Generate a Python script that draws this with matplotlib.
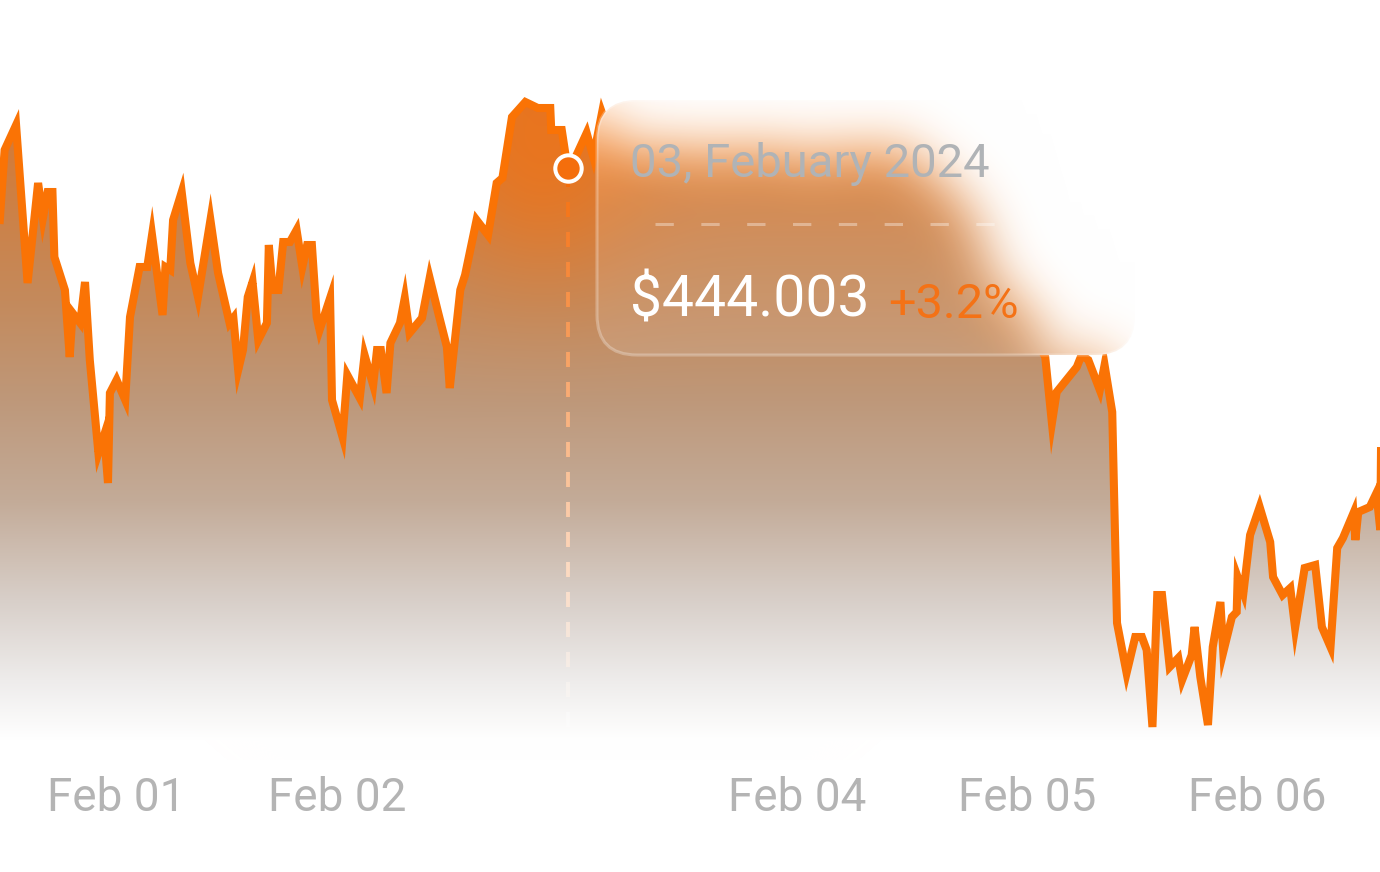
import numpy as np
import matplotlib
matplotlib.use('Agg')
import matplotlib.pyplot as plt
import matplotlib.transforms as mtransforms
from matplotlib.collections import LineCollection
from matplotlib.patches import FancyBboxPatch

# hours since Feb 01 00:00, price in $
HOURS = [-11.3, -10.8, -9.6, -8.4, -7.3, -6.8, -6.3, -5.8, -5.6, -4.5, -4.0, -3.7, -2.9, -2.4, -1.9,
         -1.0, -0.4, 0.0, 0.2, 0.9, 1.8, 2.3, 3.3, 4.1, 4.6, 5.7, 6.0, 6.5, 6.8, 7.7, 8.6, 9.4,
         10.7, 11.5, 12.7, 13.1, 13.6, 14.1, 14.6, 15.1, 15.7, 16.6, 16.8, 17.2, 17.8, 18.3, 19.0,
         19.7, 20.3, 20.8, 21.3, 21.8, 22.1, 23.2, 23.4, 24.5, 25.0, 26.3, 26.8, 27.7, 28.1, 28.5,
         29.1, 29.5, 30.5, 31.0, 31.5, 32.8, 33.6, 34.5, 35.4, 35.7, 36.8, 37.3, 38.5, 39.7, 40.6,
         41.2, 42.2, 43.6, 44.9, 46.2, 46.3, 47.4, 48.0, 48.8, 50.0, 50.7, 51.6,
         52.4, 53.2, 53.9, 54.7, 55.6, 56.4, 57.1, 57.9, 58.7, 59.4, 60.3, 61.0, 61.8, 62.6, 63.4,
         64.1, 65.0, 65.7, 66.5, 67.3, 68.1, 68.8, 69.7, 70.4, 71.2, 72.0, 72.8, 73.5, 74.4, 75.1,
         75.9, 76.7, 77.5, 78.2, 79.1, 79.8, 80.6, 81.4, 82.2, 82.9, 83.8, 84.5, 85.3, 86.1, 86.9,
         87.6, 88.5, 89.2, 90.0, 90.8, 91.6, 92.3, 93.2, 93.9, 94.7, 95.5, 96.3, 97.0, 97.5,
         97.9, 98.6, 99.1, 101.2, 101.7, 102.4, 103.6, 104.1, 104.9, 105.4, 106.4, 107.3, 108.0,
         108.5, 109.1, 109.6, 110.1, 110.9, 111.8, 112.2, 113.2, 113.5, 114.1, 114.9, 115.4, 116.2,
         116.5, 117.4, 117.9, 118.0, 118.6, 119.3, 120.3, 121.4, 121.7, 122.7, 123.5, 124.0, 125.0,
         126.1, 126.8, 127.7, 128.4, 129.0, 130.1, 130.3, 130.6, 131.8, 132.5, 132.9, 133.3, 135.0]
PRICES = [438.8, 445.8, 448.3, 432.5, 442.5, 439.0, 441.6, 441.6, 435.1, 431.8, 425.1, 429.5, 428.5,
          432.6, 424.8, 415.5, 417.3, 412.5, 421.5, 422.8, 420.8, 429.1, 434.1, 434.1, 437.3, 429.3,
          434.1, 433.8, 438.8, 441.6, 434.5, 431.1, 438.8, 433.5, 428.5, 429.0, 423.8, 425.8, 431.1,
          432.6, 426.8, 428.5, 436.3, 431.8, 431.8, 436.6, 436.6, 437.8, 434.1, 436.3, 436.3, 429.1,
          427.8, 431.0, 420.8, 417.1, 423.3, 421.0, 425.3, 422.3, 425.8, 425.8, 421.5, 426.5, 428.5,
          431.0, 427.5, 429.0, 433.0, 429.5, 426.1, 422.0, 431.8, 433.3, 438.8, 437.3, 442.5, 443.0,
          449.1, 450.6, 450.0, 450.0, 447.8, 447.8, 444.003, 445.0, 447.5, 445.1, 449.5,
          447.3, 443.5, 445.3, 443.8, 445.5, 444.1, 445.3, 446.3, 444.5, 445.7, 443.3, 444.7, 446.1,
          444.3, 443.1, 445.3, 443.9, 446.1, 444.5, 445.5, 443.3, 445.1, 444.1, 446.3, 444.9, 443.3,
          444.7, 442.8, 444.3, 446.1, 444.7, 443.3, 445.1, 443.8, 445.8, 444.3, 445.5, 443.5, 444.8,
          446.1, 444.3, 442.8, 443.5, 442.0, 442.6, 440.8, 441.0, 438.8, 439.0, 436.3, 433.8, 430.8,
          431.8, 428.8, 430.3, 427.8, 429.0, 426.8, 425.8,
          425.1, 418.5, 421.6, 424.1, 425.3, 424.8, 421.8, 424.3, 419.6, 398.5, 393.5, 397.1, 397.1,
          395.8, 388.1, 401.3, 401.3, 394.1, 395.0, 392.8, 395.3, 398.1, 393.1, 388.3, 396.1, 400.6,
          395.6, 399.1, 399.6, 403.1, 401.5, 407.3, 410.1, 406.6, 403.1, 401.3, 402.0, 398.0, 404.0,
          404.3, 398.1, 396.1, 406.0, 407.0, 409.5, 406.8, 409.6, 410.1, 411.5, 407.8, 450.2, 430.8]

TICK_HOURS = [0, 24, 72, 96, 120]
TICK_LABELS = ['Feb 01', 'Feb 02', 'Feb 04', 'Feb 05', 'Feb 06']
TICK_NUDGE_PX = [8, 0, 0, 0, 0]

HOVER_HOUR = 48.0
HOVER_PRICE = 444.003
HOVER_DATE = '03, Febuary 2024'
HOVER_VALUE = '$444.003'
HOVER_CHANGE = '+3.2%'

ORANGE = '#FA7305'
W, H = 1380, 872
XMIN, XMAX = -11.28, 132.87
YMIN, YMAX = 373.6, 460.8
FILL_FLOOR = 384.8
FONT = ['Roboto', 'DejaVu Sans']


def gaussian_blur(img, sigma):
    r = int(3 * sigma)
    k = np.exp(-0.5 * (np.arange(-r, r + 1) / sigma) ** 2)
    k /= k.sum()
    h, w = img.shape[:2]
    p = np.pad(img, ((r, r), (r, r), (0, 0)), mode='edge')
    tmp = np.zeros((h + 2 * r, w, 3))
    for i, kv in enumerate(k):
        tmp += kv * p[:, i:i + w]
    out = np.zeros((h, w, 3))
    for i, kv in enumerate(k):
        out += kv * tmp[i:i + h]
    return out


def main():
    fig = plt.figure(figsize=(W / 100, H / 100), dpi=100)
    ax = fig.add_axes([0, 0, 1, 1])
    ax.set_xlim(XMIN, XMAX)
    ax.set_ylim(YMIN, YMAX)
    ax.axis('off')

    # gradient fill under the line
    poly = ax.fill_between(HOURS, PRICES, FILL_FLOOR, facecolor='none', edgecolor='none')
    py = np.arange(H)
    stops = [100, 200, 300, 400, 500, 600, 680, 740]
    reds = [0xD8, 0xCE, 0xC4, 0xBE, 0xC3, 0xD8, 0xEE, 0xFF]
    greens = [0x78, 0x80, 0x8A, 0x98, 0xAB, 0xCF, 0xEC, 0xFF]
    blues = [0x30, 0x44, 0x5C, 0x7A, 0x98, 0xC9, 0xEB, 0xFF]
    col = np.stack([np.interp(py, stops, c) for c in (reds, greens, blues)], axis=1) / 255
    img = np.repeat(col[:, None, :], W, axis=1)
    # warm glow around the hovered point
    cx, cy = ax.transData.transform((HOVER_HOUR, HOVER_PRICE))
    cy = H - cy
    gx, gy = np.meshgrid(np.arange(W), py)
    a = 0.65 * np.exp(-(((gx - cx + 25) / 95) ** 2 + ((gy - cy + 20) / 120) ** 2))
    glow = np.array([0xF4, 0x72, 0x12]) / 255
    img = img * (1 - a[..., None]) + glow * a[..., None]
    im = ax.imshow(img, extent=(XMIN, XMAX, YMIN, YMAX), origin='upper', aspect='auto',
                   interpolation='nearest', zorder=1)
    im.set_clip_path(poly.get_paths()[0], transform=ax.transData)

    ax.plot(HOURS, PRICES, color=ORANGE, lw=5.8, solid_joinstyle='miter', zorder=3)

    # dashed hover guide, fading to white
    tops = np.arange(HOVER_PRICE - 0.4, 389.5, -3.0)
    segs = [[(HOVER_HOUR, t), (HOVER_HOUR, t - 1.5)] for t in tops]
    frac = (tops[0] - tops) / (tops[0] - tops[-1])
    base = np.array([0xF4, 0x6C, 0x0A]) / 255
    cols = []
    for f in frac:
        c = base * (1 - f ** 0.9) + np.ones(3) * f ** 0.9
        alpha = 1.0 if f < 0.75 else 1.0 - (f - 0.75) * 2.6
        cols.append((*c, alpha))
    ax.add_collection(LineCollection(segs, colors=cols, linewidths=2.8, zorder=4))

    ax.plot(HOVER_HOUR, HOVER_PRICE, 'o', ms=19, mfc='#F46E0C', mec='white', mew=2.9, zorder=6)

    blend = mtransforms.blended_transform_factory(ax.transData, ax.transAxes)
    for h, lab, dx in zip(TICK_HOURS, TICK_LABELS, TICK_NUDGE_PX):
        tr = blend + mtransforms.ScaledTranslation(dx / 100, 0, fig.dpi_scale_trans)
        ax.text(h, 1 - 811 / H, lab, transform=tr, ha='center', va='baseline',
                fontsize=33, color='#B4B4B4', family=FONT)

    # tooltip with frosted background
    x0, x1, y0, y1 = 597, 1135, 100, 355
    fig.canvas.draw()
    buf = np.asarray(fig.canvas.buffer_rgba())[:, :, :3].astype(float) / 255
    m = 80
    sub = buf[y0 - m:y1 + m, x0 - m:x1 + m]
    blurred = gaussian_blur(sub, 26)[m:m + (y1 - y0), m:m + (x1 - x0)]

    bw, bh = x1 - x0, y1 - y0
    tax = fig.add_axes([x0 / W, 1 - y1 / H, bw / W, bh / H])
    tax.set_xlim(0, bw)
    tax.set_ylim(bh, 0)
    tax.axis('off')
    clip = FancyBboxPatch((0, 0), bw, bh, boxstyle='round,pad=0,rounding_size=40',
                          facecolor='white', alpha=0.1, edgecolor='none', clip_on=False)
    tax.add_patch(clip)
    tim = tax.imshow(np.clip(blurred, 0, 1), extent=(0, bw, bh, 0), aspect='auto',
                     interpolation='bilinear', zorder=0)
    tim.set_clip_path(clip)
    clip.set_zorder(1)
    tax.add_patch(FancyBboxPatch((0, 0), bw, bh, boxstyle='round,pad=0,rounding_size=40',
                                 facecolor='none', edgecolor=(1, 1, 1, 0.28), lw=2.2,
                                 clip_on=False, zorder=2))
    tax.plot([58, 413], [124, 124], color=(1, 1, 1, 0.35), lw=2.2,
             dashes=(6, 9), zorder=3)

    fig.text(630 / W, 1 - 177 / H, HOVER_DATE, fontsize=34, color='#B0B3B6',
             family=FONT, va='baseline')
    fig.text(630 / W, 1 - 317 / H, HOVER_VALUE, fontsize=41, color='white',
             family=FONT, va='baseline')
    fig.text(888 / W, 1 - 318 / H, HOVER_CHANGE, fontsize=35, color='#F47216',
             family=FONT, va='baseline')

    fig.savefig('out.png', dpi=100, facecolor='white')


if __name__ == '__main__':
    main()
